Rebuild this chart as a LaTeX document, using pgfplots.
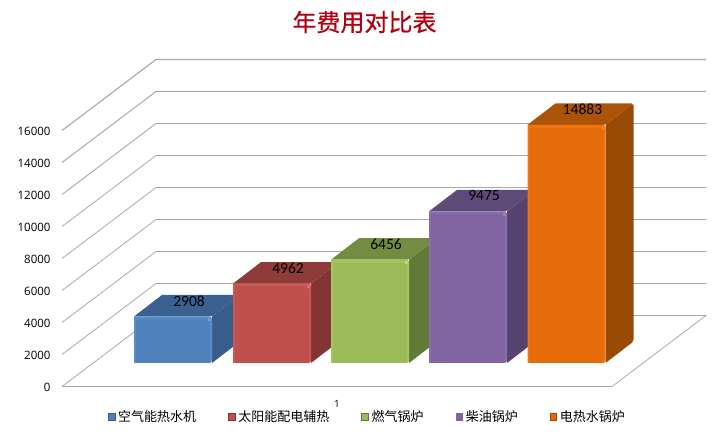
\documentclass[border=0pt]{standalone}
\usepackage{fontspec}
\usepackage{pgfplots}
\usepackage{pgfplotstable}
\pgfplotsset{compat=1.18}
\setmainfont{Open Sans}
\newfontfamily\cjk{Noto Sans CJK SC}
\newfontfamily\cjktitle[FakeBold=0.6]{Noto Sans CJK SC}
\newfontfamily\carlito{Carlito}
\definecolor{gridc}{HTML}{A8A8A8}
\definecolor{titlec}{HTML}{B00010}
\definecolor{bF}{HTML}{4F81BD}\definecolor{bL}{HTML}{5A8BC7}\definecolor{bH}{HTML}{6FA0DC}\definecolor{bT}{HTML}{3B6191}\definecolor{bS}{HTML}{375D8A}
\definecolor{rF}{HTML}{C0504D}\definecolor{rL}{HTML}{CA5A57}\definecolor{rH}{HTML}{E06E6A}\definecolor{rT}{HTML}{8F3B39}\definecolor{rS}{HTML}{843533}
\definecolor{gF}{HTML}{9BBB59}\definecolor{gL}{HTML}{A5C563}\definecolor{gH}{HTML}{BBDC72}\definecolor{gT}{HTML}{748C42}\definecolor{gS}{HTML}{617A35}
\definecolor{pF}{HTML}{8064A2}\definecolor{pL}{HTML}{896DAC}\definecolor{pH}{HTML}{9C80C2}\definecolor{pT}{HTML}{5F4B7A}\definecolor{pS}{HTML}{564370}
\definecolor{oF}{HTML}{E66C0A}\definecolor{oL}{HTML}{EF7610}\definecolor{oH}{HTML}{FA8A28}\definecolor{oT}{HTML}{AB5408}\definecolor{oS}{HTML}{994A05}
% shapes: u = px across the bar, d = depth fraction, h = fraction of value, e = px offset up
\pgfplotstableread{
u d h e
0 0 0 0
78 0 0 0
78 0 1 0
0 0 1 0
}\shapeFront
\pgfplotstableread{
u d h e
2 0 0 0
76 0 0 0
76 0 1 -3
2 0 1 -3
}\shapeInner
\pgfplotstableread{
u d h e
74 0 1 -1.5
77 0 1 -1.5
77 0 1 -4.5
74 0 1 -4.5
}\shapeDot
\pgfplotstableread{
u d h e
78 0 0 0
78 1 0 0
78 1 1 0
78 0 1 0
}\shapeSide
\pgfplotstableread{
u d h e
0 0 1 0
78 0 1 0
78 1 1 0
0 1 1 0
}\shapeTop
\pgfplotstableread{
u d h e
55 0 1 15.5
}\shapeLabel
\newcommand\poly[4]{% table, left x, value, options
  \addplot[draw=none,mark=none,forget plot,#4] table[
    x expr={#2+\thisrow{u}+28*\thisrow{d}},
    y expr={1469+\thisrow{h}*#3+1344*\thisrow{d}+62.5*\thisrow{e}}] #1;}
\newcommand\tdbar[3]{% left, value, colour prefix
  \poly{\shapeSide}{#1}{#2}{fill=#3S,rounded corners=2pt}
  \poly{\shapeTop}{#1}{#2}{fill=#3T,rounded corners=2pt}
  \poly{\shapeFront}{#1}{#2}{fill=#3L,rounded corners=2.5pt}
  \poly{\shapeInner}{#1}{#2}{fill=#3F,rounded corners=1pt}
  \poly{\shapeDot}{#1}{#2}{fill=#3H,rounded corners=1pt}
}
\newcommand\barlabel[2]{%
  \addplot[draw=none,mark=none,forget plot,
    nodes near coords={#2},
    nodes near coords align={center},
    every node near coord/.append style={anchor=center,inner sep=0pt,text=black,
      font=\carlito\fontsize{15.5bp}{17bp}\selectfont}] table[
    x expr={#1+\thisrow{u}+28*\thisrow{d}},
    y expr={1469+\thisrow{h}*#2+1344*\thisrow{d}+62.5*\thisrow{e}}] \shapeLabel;}
\newcommand\lkey[2]{\addlegendimage{legend image code/.code={\fill[draw=#1,fill=#2,line width=.7bp] (0,-3.2bp) rectangle (6.5bp,3.2bp);}}}
\begin{document}
\begin{tikzpicture}
\useasboundingbox (0,0) rectangle (712bp,440bp);
\begin{axis}[
  at={(62bp,53.5bp)},anchor=south west,
  scale only axis,width=645bp,height=332.8bp,
  xmin=62,xmax=707,ymin=0,ymax=20800,
  clip=false,
  axis line style={draw=none},
  major tick length=0pt,
  tick style={draw=none},
  xtick pos=bottom,ytick pos=left,
  xtick={337},xticklabels={1},
  ytick={0,2000,4000,6000,8000,10000,12000,14000,16000},
  scaled y ticks=false,
  /pgf/number format/set thousands separator={},
  /pgf/number format/assume math mode=true,
  yticklabel style={font=\fontsize{11.5bp}{13bp}\selectfont,xshift=-8bp,yshift=-1.2bp},
  xticklabel style={font=\fontsize{10bp}{11bp}\selectfont,yshift=-10.5bp},
  title={\cjktitle 年费用对比表},
  title style={at={(axis description cs:0.469,1.077)},anchor=center,yshift=0pt,
    text=titlec,font=\fontsize{24bp}{26bp}\selectfont},
  legend columns=5,
  legend style={at={(axis description cs:0.4736,-0.0917)},anchor=center,draw=none,fill=none,
    inner sep=0pt,font=\fontsize{13bp}{15bp}\selectfont,
    /tikz/every even column/.append style={column sep=30bp},
    /tikz/every odd column/.append style={column sep=1bp}},
  legend cell align=left,
]
% legend
\lkey{bS}{bF}
\lkey{rS}{rF}
\lkey{gS}{gF}
\lkey{pF}{pF}
\lkey{oS}{oF}
\addlegendentry{\cjk 空气能热水机}
\addlegendentry{\cjk 太阳能配电辅热}
\addlegendentry{\cjk 燃气锅炉}
\addlegendentry{\cjk 柴油锅炉}
\addlegendentry{\cjk 电热水锅炉}
% floor and grid
\addplot[gridc,line width=.8bp,forget plot] coordinates {(62,0)(612,0)(706,4437.5)(156,4437.5)(62,0)};
\addplot[gridc,line width=.8bp,forget plot] coordinates {(62,2000)(156,6437.5)(706,6437.5)};
\addplot[gridc,line width=.8bp,forget plot] coordinates {(62,4000)(156,8437.5)(706,8437.5)};
\addplot[gridc,line width=.8bp,forget plot] coordinates {(62,6000)(156,10437.5)(706,10437.5)};
\addplot[gridc,line width=.8bp,forget plot] coordinates {(62,8000)(156,12437.5)(706,12437.5)};
\addplot[gridc,line width=.8bp,forget plot] coordinates {(62,10000)(156,14437.5)(706,14437.5)};
\addplot[gridc,line width=.9bp,forget plot] coordinates {(62,12000)(156,16437.5)(706,16437.5)};
\addplot[gridc,line width=1bp,forget plot] coordinates {(62,14000)(156,18437.5)(706,18437.5)};
\addplot[gridc,line width=1.1bp,forget plot] coordinates {(62,16000)(156,20437.5)(706,20437.5)};
% bars
\tdbar{134}{2908}{b}
\tdbar{233}{4962}{r}
\tdbar{331}{6456}{g}
\tdbar{429}{9475}{p}
\tdbar{527.5}{14883}{o}
\barlabel{134}{2908}
\barlabel{233}{4962}
\barlabel{331}{6456}
\barlabel{429}{9475}
\barlabel{527.5}{14883}
\end{axis}
\end{tikzpicture}
\end{document}
